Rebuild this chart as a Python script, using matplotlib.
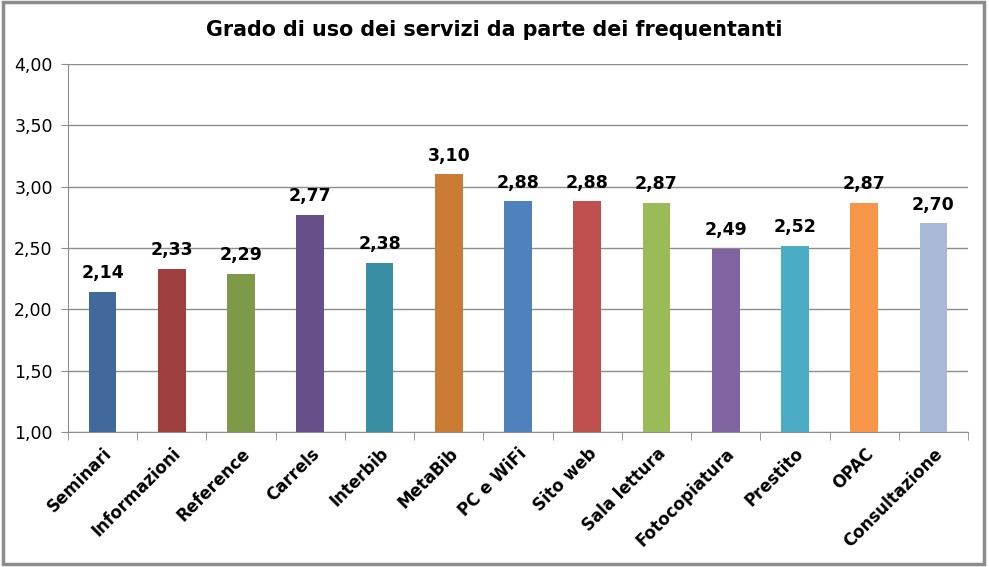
import matplotlib
matplotlib.use("Agg")
import matplotlib.pyplot as plt
from matplotlib.patches import Rectangle
from matplotlib.transforms import ScaledTranslation
import numpy as np

categories = ["Seminari", "Informazioni", "Reference", "Carrels", "Interbib", "MetaBib",
              "PC e WiFi", "Sito web", "Sala lettura", "Fotocopiatura", "Prestito", "OPAC",
              "Consultazione"]
values = [2.14, 2.33, 2.29, 2.77, 2.38, 3.10, 2.88, 2.88, 2.87, 2.49, 2.52, 2.87, 2.70]
colors = ["#41699C", "#A0403E", "#7E9A48", "#674F8A", "#398EA4", "#CC7B35", "#4F81BD",
          "#C0504D", "#9BBB59", "#8064A2", "#4BACC6", "#F79646", "#A9BAD9"]
yticks = [1.0, 1.5, 2.0, 2.5, 3.0, 3.5, 4.0]
title = "Grado di uso dei servizi da parte dei frequentanti"

plt.rcParams['font.family'] = ['DejaVu Sans']
fig = plt.figure(figsize=(9.89, 5.67), dpi=100)
ax = fig.add_axes([68/989, (567-432)/567, 900/989, (432-64)/567])

x = np.arange(len(categories))
ax.bar(x, values, width=0.4, color=colors, bottom=0, zorder=3)
ax.set_ylim(1.0, 4.0)
ax.set_xlim(-0.5, len(categories) - 0.5)
ax.set_yticks(yticks)
ax.set_yticklabels([f"{v:.2f}".replace(".", ",") for v in yticks], fontsize=12.5)
ax.yaxis.grid(True, color="#8C8C8C", linewidth=1, zorder=0)
ax.set_axisbelow(True)

for xi, v in zip(x, values):
    ax.text(xi, v + 0.08, f"{v:.2f}".replace(".", ","), ha="center", va="bottom",
            fontsize=12.5, fontweight="bold")

ax.set_xticks(x)
ax.set_xticklabels(categories, rotation=45, ha="right", rotation_mode="anchor",
                   fontsize=12, fontweight="bold")
shift = ScaledTranslation(-5/100, 0, fig.dpi_scale_trans)
for lbl in ax.get_xticklabels():
    lbl.set_transform(lbl.get_transform() + shift)
ax.tick_params(axis="x", length=0, pad=9)
ax.set_xticks(np.arange(-0.5, len(categories)), minor=True)
ax.tick_params(axis="x", which="minor", length=6, color="#8C8C8C")
ax.tick_params(axis="y", length=5, color="#8C8C8C", pad=6)

for s in ["top", "right"]:
    ax.spines[s].set_visible(False)
for s in ["left", "bottom"]:
    ax.spines[s].set_color("#8C8C8C")

fig.text(0.5, 1 - 30/567, title, ha="center", va="center", fontsize=14.9, fontweight="bold")

fig.patches.append(Rectangle((0.003, 0.006), 0.992, 0.99, transform=fig.transFigure,
                             fill=False, edgecolor="#8C8C8C", linewidth=2.5))
fig.savefig("out.png", dpi=100)
